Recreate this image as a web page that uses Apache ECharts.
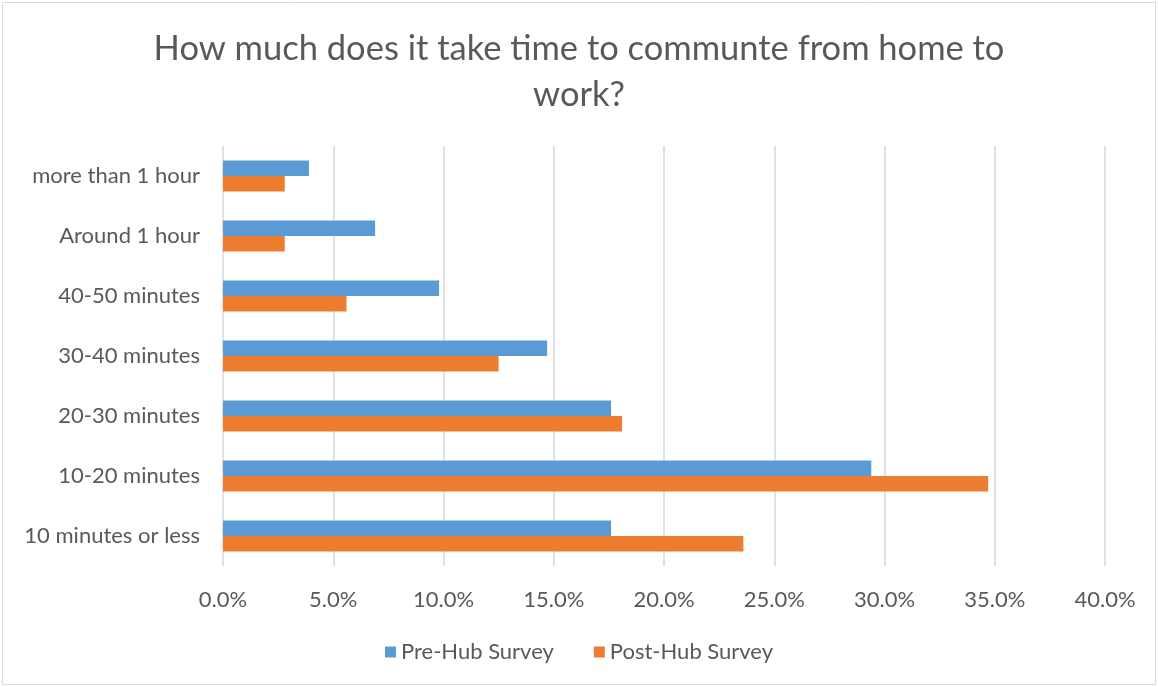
<!DOCTYPE html>
<html>
<head>
<meta charset="utf-8">
<script src="https://cdn.jsdelivr.net/npm/echarts@6/dist/echarts.min.js"></script>
<style>
html,body{margin:0;padding:0;background:#fff;}
#chart{width:1158px;height:687px;}
</style>
</head>
<body>
<div id="chart"></div>
<script>
const titleText = "How much does it take time to communte from home to\nwork?";
const categories = ["more than 1 hour", "Around 1 hour", "40-50 minutes", "30-40 minutes", "20-30 minutes", "10-20 minutes", "10 minutes or less"];
const preHub = [3.9, 6.9, 9.8, 14.7, 17.6, 29.4, 17.6];
const postHub = [2.8, 2.8, 5.6, 12.5, 18.1, 34.7, 23.6];
const seriesNames = ["Pre-Hub Survey", "Post-Hub Survey"];

const font = "Lato, 'Open Sans', 'Liberation Sans', sans-serif";
const textColor = "#595959";

const chart = echarts.init(document.getElementById('chart'), null, {renderer: 'canvas'});
chart.setOption({
  animation: false,
  backgroundColor: '#fff',
  textStyle: {fontFamily: font},
  title: {
    text: titleText,
    left: 'center',
    top: 21,
    textStyle: {fontFamily: font, fontSize: 34.5, fontWeight: 'normal', color: textColor, lineHeight: 46}
  },
  graphic: [{
    type: 'rect',
    shape: {x: 2.5, y: 2.5, width: 1153, height: 682},
    style: {fill: 'none', stroke: '#d9d9d9', lineWidth: 1},
    silent: true
  }],
  legend: {
    data: seriesNames,
    top: 636,
    left: 'center',
    icon: 'rect',
    itemWidth: 11,
    itemHeight: 11,
    itemGap: 40,
    textStyle: {fontFamily: font, fontSize: 22, color: textColor}
  },
  grid: {left: 223, right: 53, top: 146, bottom: 121, containLabel: false},
  xAxis: {
    type: 'value',
    min: 0,
    max: 40,
    interval: 5,
    axisLine: {show: false},
    axisTick: {show: false},
    splitLine: {lineStyle: {color: '#d9d9d9', width: 1.5}},
    axisLabel: {
      margin: 23,
      fontFamily: font,
      fontSize: 22,
      color: textColor,
      formatter: v => v.toFixed(1) + '%'
    }
  },
  yAxis: {
    type: 'category',
    inverse: true,
    data: categories,
    axisLine: {show: false},
    axisTick: {show: false},
    axisLabel: {margin: 23, fontFamily: font, fontSize: 22, color: textColor}
  },
  series: [
    {name: seriesNames[0], type: 'bar', data: preHub, barGap: '0%', barCategoryGap: '48%',
     itemStyle: {color: '#5B9BD5'}},
    {name: seriesNames[1], type: 'bar', data: postHub, barGap: '0%', barCategoryGap: '48%',
     itemStyle: {color: '#ED7D31'}}
  ]
});
</script>
</body>
</html>
